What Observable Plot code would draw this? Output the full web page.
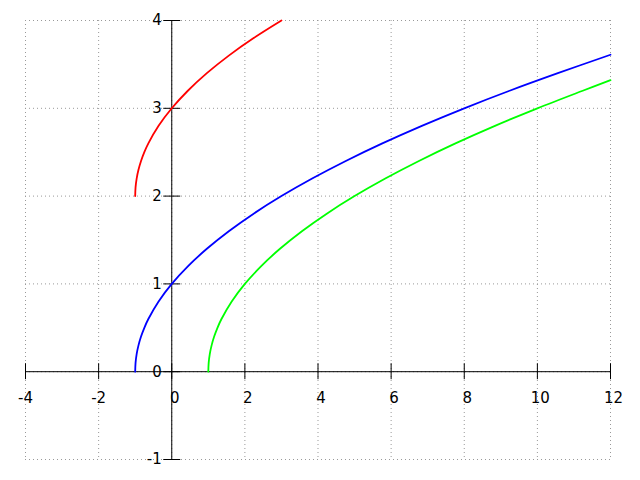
<!DOCTYPE html>
<html>
<head>
<meta charset="utf-8">
<script src="https://cdn.jsdelivr.net/npm/d3@7"></script>
<script src="https://cdn.jsdelivr.net/npm/@observablehq/plot@0.6"></script>
<style>
  html, body { margin: 0; padding: 0; background: #fff; }
  svg { display: block; }
</style>
</head>
<body>
<div id="chart"></div>
<script>
// Tick values and labels
const xTicks = [-4, -2, 0, 2, 4, 6, 8, 10, 12];
const xTickLabels = ["-4", "-2", "0", "2", "4", "6", "8", "10", "12"];
const yTicks = [-1, 0, 1, 2, 3, 4];
const yTickLabels = ["-1", "0", "1", "2", "3", "4"];

// Blue curve
const blueX = [-1, -0.99, -0.96, -0.91, -0.84, -0.75, -0.64, -0.36, 0, 0.44, 0.96, 1.56, 2.24, 3, 3.84, 4.76, 5.76, 6.84, 8, 9.24, 10.56, 12];
const blueY = [0, 0.1, 0.2, 0.3, 0.4, 0.5, 0.6, 0.8, 1.0, 1.2, 1.4, 1.6, 1.8, 2.0, 2.2, 2.4, 2.6, 2.8, 3.0, 3.2, 3.4, 3.61];

// Green curve
const greenX = [1, 1.01, 1.04, 1.09, 1.16, 1.25, 1.36, 1.64, 2, 2.44, 2.96, 3.56, 4.24, 5, 5.84, 6.76, 7.76, 8.84, 10, 11.24, 12];
const greenY = [0, 0.1, 0.2, 0.3, 0.4, 0.5, 0.6, 0.8, 1.0, 1.2, 1.4, 1.6, 1.8, 2.0, 2.2, 2.4, 2.6, 2.8, 3.0, 3.2, 3.32];

// Red curve
const redX = [-1, -0.99, -0.96, -0.91, -0.84, -0.75, -0.64, -0.36, 0, 0.44, 0.96, 1.56, 2.24, 3];
const redY = [2, 2.1, 2.2, 2.3, 2.4, 2.5, 2.6, 2.8, 3.0, 3.2, 3.4, 3.6, 3.8, 4.0];

const toPts = (xs, ys) => xs.map((x, i) => ({x, y: ys[i]}));
const blue = toPts(blueX, blueY);
const green = toPts(greenX, greenY);
const red = toPts(redX, redY);
const xLab = xTicks.map((v, i) => ({v, t: xTickLabels[i]}));
const yLab = yTicks.map((v, i) => ({v, t: yTickLabels[i]}));

const chart = Plot.plot({
  width: 640,
  height: 480,
  marginLeft: 25,
  marginRight: 30,
  marginTop: 20,
  marginBottom: 21,
  style: {fontFamily: "DejaVu Sans", fontSize: "15px", background: "#fff", overflow: "visible"},
  x: {domain: [-4, 12], axis: null},
  y: {domain: [-1, 4], axis: null},
  marks: [
    Plot.ruleX(xTicks, {x: d => d, stroke: "#999", strokeDasharray: "1,3", strokeWidth: 1}),
    Plot.ruleY(yTicks, {y: d => d, stroke: "#999", strokeDasharray: "1,3", strokeWidth: 1}),
    Plot.ruleY([0], {y: d => d, x1: -4, x2: 12, stroke: "#000", strokeWidth: 1}),
    Plot.ruleX([0], {x: d => d, y1: -1, y2: 4, stroke: "#000", strokeWidth: 1}),
    Plot.ruleX(xTicks, {x: d => d, y1: 0, y2: 0, insetTop: -8, insetBottom: -8, stroke: "#000", strokeWidth: 1}),
    Plot.ruleY(yTicks, {y: d => d, x1: 0, x2: 0, insetLeft: -8, insetRight: -9, stroke: "#000", strokeWidth: 1}),
    Plot.text(xLab.filter(d => d.v < 0), {x: "v", y: 0, text: "t", dy: 26, fill: "#000", fontSize: 15}),
    Plot.text(xLab.filter(d => d.v >= 0), {x: "v", y: 0, text: "t", dy: 26, dx: 3, fill: "#000", fontSize: 15}),
    Plot.text(yLab, {x: 0, y: "v", text: "t", dx: -10, textAnchor: "end", fill: "#000", fontSize: 15}),
    Plot.line(red, {x: "x", y: "y", stroke: "#ff0000", strokeWidth: 1.8, curve: "catmull-rom"}),
    Plot.line(blue, {x: "x", y: "y", stroke: "#0000ff", strokeWidth: 1.8, curve: "catmull-rom"}),
    Plot.line(green, {x: "x", y: "y", stroke: "#00ff00", strokeWidth: 1.8, curve: "catmull-rom"})
  ]
});
document.getElementById("chart").appendChild(chart);
</script>
</body>
</html>
